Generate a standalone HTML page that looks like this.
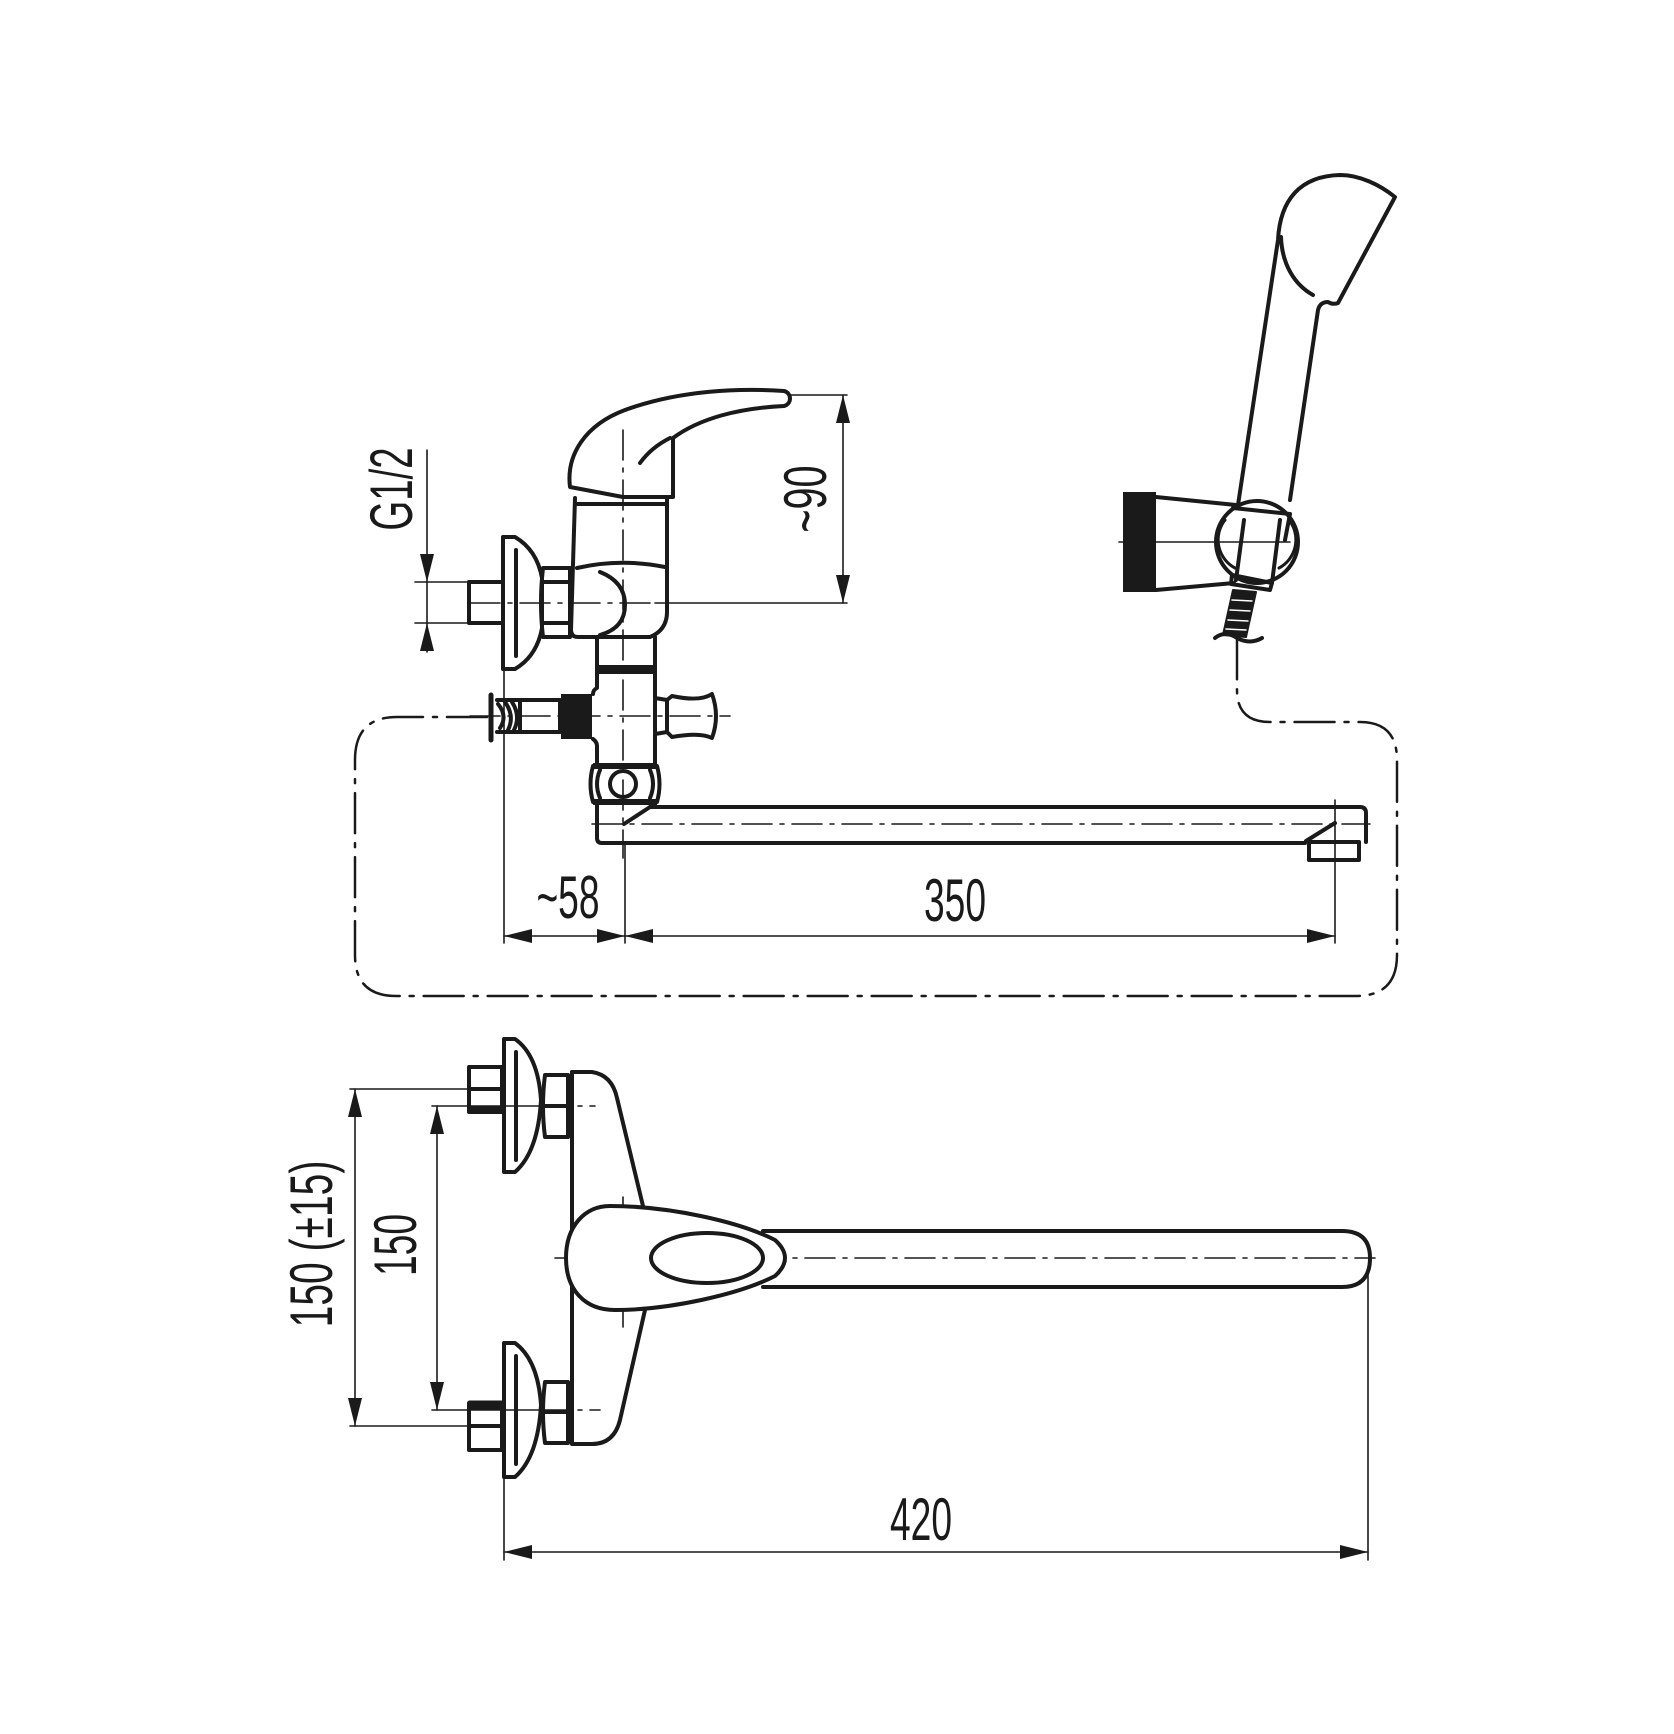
<!DOCTYPE html>
<html><head><meta charset="utf-8"><style>
html,body{margin:0;padding:0;background:#fff}
svg{display:block}
text{font-family:"Liberation Sans",Arial,sans-serif;fill:#1a1a1a}
</style></head><body>
<svg width="1674" height="1734" viewBox="0 0 1674 1734" xmlns="http://www.w3.org/2000/svg">
<defs>
<marker id="a" viewBox="0 0 28 14" refX="28" refY="7" markerWidth="28" markerHeight="14" markerUnits="userSpaceOnUse" orient="auto-start-reverse"><path d="M0,0 L28,7 L0,14 Z" fill="#1a1a1a"/></marker>
</defs>
<g fill="none" stroke="#1a1a1a" stroke-linecap="round" stroke-linejoin="round">

<!-- ===== dash-dot frame ===== -->
<g stroke-width="2.5" stroke-dasharray="40 10 4 10">
<path d="M487,717 L397,717 Q355,717 355,760 L355,955 Q355,996 396,996 L1356,996 Q1397,996 1397,955 L1397,760 Q1397,722 1360,722 L1270,722 Q1237,722 1237,690 L1237,640"/>
</g>

<!-- ===== SIDE VIEW ===== -->
<!-- center lines -->
<g stroke-width="1.6" stroke-dasharray="30 8 4 8">
<line x1="623" y1="430" x2="623" y2="858"/>
<line x1="470" y1="603" x2="655" y2="603"/>
<line x1="470" y1="716" x2="730" y2="716"/>
<line x1="592" y1="824" x2="1370" y2="824"/>
</g>
<line x1="655" y1="603" x2="847" y2="603" stroke-width="1.6"/>

<g stroke-width="4">
<!-- lever -->
<path d="M570,487 C566,455 585,425 625,410 C680,390 740,388 784,391 C792,393 792,404 784,406 C740,408 700,418 673,438 L673,497 L623,497 Z"/>
<path d="M640,463 C648,452 658,444 670,438"/>
<!-- body -->
<path d="M575,498 L571,630 Q571,637 578,637 L650,637 Q667,630 667,612 L667,498"/>
<line x1="577" y1="504" x2="667" y2="504"/>
<path d="M577,568 Q620,558 665,567"/>
<path d="M600,572 Q625,582 625,605 Q625,628 600,635"/>
<!-- nut -->
<path d="M543,568 L570,568 L570,637 L543,637 Q539,603 543,568 Z"/>
<line x1="543" y1="582" x2="570" y2="582"/>
<line x1="543" y1="623" x2="570" y2="623"/>
<!-- rosette -->
<path d="M503,537 L515,537 Q537,550 542,578 L542,628 Q537,656 515,669 L503,669 Z"/>
<line x1="516" y1="550" x2="516" y2="656"/>
<!-- pipe stub -->
<rect x="469" y="582" width="34" height="41"/>
<!-- stem -->
<path d="M597,637 L597,672 L655,672 L655,637"/>
<!-- tee -->
<path d="M597,672 L597,688 Q593,690 593,694 M593,739 Q597,742 597,746 L597,765"/>
<path d="M655,672 L655,698 L667,700 L667,732 L655,734 L655,765"/>
<!-- right knob -->
<path d="M667,700 L672,696 Q700,702 712,694 Q720,716 712,738 Q700,732 672,737 L667,732"/>
<line x1="655" y1="700" x2="655" y2="732"/>
<!-- ball joint -->
<path d="M593,766 L657,766 Q662,784 657,802 L593,802 Q588,784 593,766 Z"/>
<path d="M600,770 Q594,784 600,798 M650,770 Q656,784 650,798"/>
<!-- spout -->
<path d="M597,803 L597,838 Q597,843 602,843 L1305,843 M650,807 L1360,807 Q1366,807 1366,813 L1366,842"/>
<path d="M650,807 L624,824"/>
<path d="M1335,823 L1306,841"/>
<rect x="1309" y="842" width="50" height="18"/>
<!-- diverter stub -->
<rect x="520" y="700" width="40" height="32"/>
<path d="M497,700 L520,700 L520,732 L497,732"/>
<path d="M498,704 Q508,716 500,728 M505,702 Q515,716 508,730 M512,702 Q521,716 514,730"/>
<line x1="491" y1="695" x2="491" y2="740" stroke-width="5"/>
</g>
<circle cx="623" cy="784" r="13" stroke-width="4"/>
<rect x="561" y="694" width="31" height="45" fill="#1a1a1a" stroke="none"/>
<rect x="593" y="763" width="64" height="6" fill="#1a1a1a" stroke="none"/>
<rect x="593" y="799" width="64" height="6" fill="#1a1a1a" stroke="none"/>
<rect x="597" y="665" width="58" height="8" fill="#1a1a1a" stroke="none"/>

<!-- side dims -->
<g stroke-width="1.6">
<line x1="504" y1="669" x2="504" y2="943"/>
<line x1="625" y1="843" x2="625" y2="943"/>
<line x1="1335" y1="800" x2="1335" y2="943"/>
<line x1="504" y1="936" x2="625" y2="936" marker-start="url(#a)" marker-end="url(#a)"/>
<line x1="625" y1="936" x2="1335" y2="936" marker-start="url(#a)" marker-end="url(#a)"/>
<!-- ~90 -->
<line x1="790" y1="395" x2="847" y2="395"/>
<line x1="843" y1="395" x2="843" y2="603" marker-start="url(#a)" marker-end="url(#a)"/>
<!-- G1/2 -->
<line x1="415" y1="582" x2="469" y2="582"/>
<line x1="415" y1="623" x2="469" y2="623"/>
<line x1="427" y1="450" x2="427" y2="582" marker-end="url(#a)"/>
<line x1="427" y1="652" x2="427" y2="623" marker-end="url(#a)"/>
<line x1="427" y1="582" x2="427" y2="623"/>
</g>

<!-- ===== HAND SHOWER ===== -->
<g stroke-width="4">
<path d="M1238,505 L1278,240 C1280,200 1300,176 1340,175 C1360,175 1380,185 1395,197 L1338,303 Q1333,305 1328,302 Q1320,302 1318,310 L1290,500"/>
<path d="M1281,237 C1282,265 1295,285 1313,295"/>
<path d="M1233,508 L1290,514 L1285,540 M1244,520 L1236,580 M1280,520 L1272,583"/>
<path d="M1232,575 L1272,583 L1270,590 L1231,584 Z"/>
<path d="M1156,497 L1236,505 M1156,590 L1234,583"/>
</g>
<circle cx="1257" cy="542" r="41" stroke-width="4"/>
<path d="M1225,520 A32,32 0 0 0 1235,568 M1289,520 A32,32 0 0 1 1279,568" stroke-width="3"/>
<rect x="1123" y="492" width="33" height="100" fill="#1a1a1a" stroke="none"/>
<line x1="1119" y1="542" x2="1290" y2="542" stroke-width="1.6"/>
<path d="M1233,590 L1256,592 L1246,637 L1223,635 Z" fill="#1a1a1a" stroke-width="2"/>
<path d="M1215,638 Q1225,630 1237,638 Q1250,645 1262,638" stroke-width="4"/>
<g stroke="#fff" stroke-width="1.5"><line x1="1232" y1="600" x2="1252" y2="601"/><line x1="1230" y1="610" x2="1250" y2="611"/><line x1="1228" y1="620" x2="1248" y2="621"/><line x1="1226" y1="629" x2="1246" y2="630"/></g>

<!-- ===== TOP VIEW ===== -->
<g stroke-width="1.6" stroke-dasharray="30 8 4 8">
<line x1="555" y1="1258" x2="1375" y2="1258"/>
<line x1="623" y1="1197" x2="623" y2="1330"/>
<line x1="540" y1="1106" x2="595" y2="1106"/>
<line x1="540" y1="1410" x2="600" y2="1410"/>
</g>
<g stroke-width="4">
<!-- body -->
<path d="M572,1072 L592,1072 Q612,1075 617,1098 L643,1206"/>
<path d="M645,1310 L620,1420 Q614,1444 592,1444 L572,1444 L572,1072"/>
<!-- head -->
<path d="M610,1206 C670,1206 740,1222 775,1240 Q795,1258 775,1276 C740,1294 670,1310 615,1310 C585,1310 566,1290 566,1258 C566,1226 585,1206 610,1206 Z" fill="#fff"/>
<ellipse cx="707" cy="1258" rx="56" ry="25"/>
<!-- spout -->
<path d="M763,1231 L1342,1231 Q1370,1231 1370,1258 Q1370,1287 1342,1287 L763,1287"/>
<!-- top flange & nut -->
<path d="M504,1039 L515,1039 Q538,1055 541,1100 Q538,1152 515,1172 L504,1172 Z"/>
<line x1="516" y1="1052" x2="516" y2="1160"/>
<path d="M545,1075 L568,1075 L568,1137 L545,1137 Q541,1106 545,1075 Z"/>
<line x1="545" y1="1106" x2="568" y2="1106"/>
<rect x="469" y="1067" width="33" height="45"/>
<line x1="469" y1="1089" x2="502" y2="1089"/>
<!-- bottom flange & nut -->
<path d="M504,1343 L515,1343 Q538,1360 541,1405 Q538,1457 515,1477 L504,1477 Z"/>
<line x1="516" y1="1356" x2="516" y2="1464"/>
<path d="M545,1382 L568,1382 L568,1443 L545,1443 Q541,1412 545,1382 Z"/>
<line x1="545" y1="1412" x2="568" y2="1412"/>
<rect x="469" y="1403" width="33" height="47"/>
<line x1="469" y1="1426" x2="502" y2="1426"/>
</g>
<rect x="469" y="1401" width="33" height="8" fill="#1a1a1a"/>
<rect x="469" y="1107" width="33" height="6" fill="#1a1a1a"/>

<!-- top dims -->
<g stroke-width="1.6">
<line x1="350" y1="1089" x2="469" y2="1089"/>
<line x1="350" y1="1426" x2="469" y2="1426"/>
<line x1="432" y1="1106" x2="540" y2="1106"/>
<line x1="432" y1="1410" x2="540" y2="1410"/>
<line x1="355" y1="1089" x2="355" y2="1426" marker-start="url(#a)" marker-end="url(#a)"/>
<line x1="437" y1="1106" x2="437" y2="1410" marker-start="url(#a)" marker-end="url(#a)"/>
<line x1="504" y1="1477" x2="504" y2="1560"/>
<line x1="1368" y1="1273" x2="1368" y2="1560"/>
<line x1="504" y1="1552" x2="1368" y2="1552" marker-start="url(#a)" marker-end="url(#a)"/>
</g>
</g>

<!-- ===== TEXT ===== -->
<g font-size="60" text-anchor="middle">
<text transform="translate(568,918) scale(0.62,1)">~58</text>
<text transform="translate(955,921) scale(0.62,1)">350</text>
<text transform="translate(921,1540) scale(0.62,1)">420</text>
<text transform="translate(412,489) rotate(-90) scale(0.64,1)">G1/2</text>
<text transform="translate(826,499) rotate(-90) scale(0.66,1)">~90</text>
<text transform="translate(332,1244) rotate(-90) scale(0.65,1)">150 (±15)</text>
<text transform="translate(416,1245) rotate(-90) scale(0.62,1)">150</text>
</g>
</svg>
</body></html>
